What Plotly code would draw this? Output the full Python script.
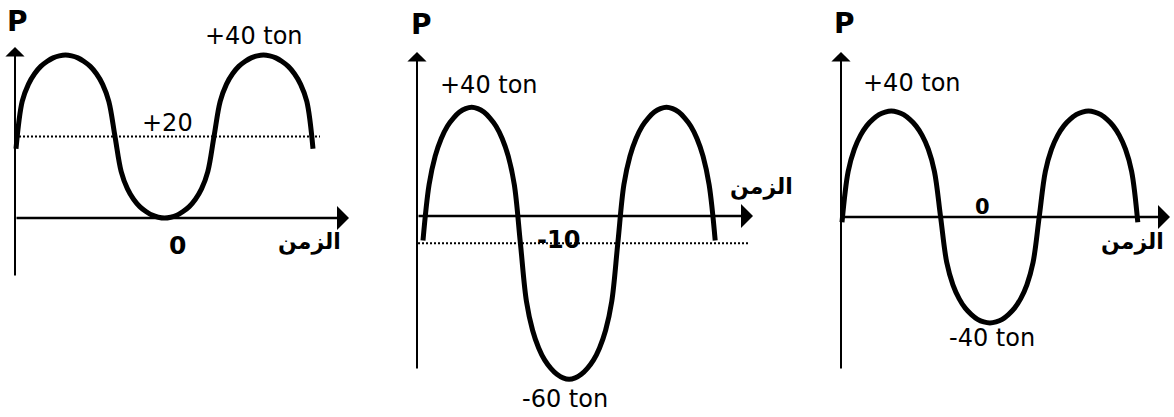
import plotly.graph_objects as go

W, H = 1174, 417

# time in quarter periods: 1 = crest, 2 = mean crossing, 3 = trough ...
t = [0, 0.125, 0.25, 0.375, 0.5, 0.625, 0.75, 0.875,
     1, 1.125, 1.25, 1.375, 1.5, 1.625, 1.75, 1.875,
     2, 2.125, 2.25, 2.375, 2.5, 2.625, 2.75, 2.875,
     3, 3.125, 3.25, 3.375, 3.5, 3.625, 3.75, 3.875,
     4, 4.125, 4.25, 4.375, 4.5, 4.625, 4.75, 4.875,
     5, 5.125, 5.25, 5.375, 5.5, 5.625, 5.75, 5.875, 6]

# load P (ton) for the three cases
load_a = [17, 28.6, 32.8, 35.4, 37.2, 38.4, 39.3, 39.8,
          40, 39.8, 39.3, 38.4, 37.2, 35.4, 32.8, 28.6,
          20, 11.4, 7.2, 4.6, 2.8, 1.6, 0.7, 0.2,
          0, 0.2, 0.7, 1.6, 2.8, 4.6, 7.2, 11.4,
          20, 28.6, 32.8, 35.4, 37.2, 38.4, 39.3, 39.8,
          40, 39.8, 39.3, 38.4, 37.2, 35.4, 32.8, 28.6, 17]
load_b = [-9, 11.5, 22, 28.5, 33, 36, 38.2, 39.5,
          40, 39.5, 38.2, 36, 33, 28.5, 22, 11.5,
          -10, -31.5, -42, -48.5, -53, -56, -58.2, -59.5,
          -60, -59.5, -58.2, -56, -53, -48.5, -42, -31.5,
          -10, 11.5, 22, 28.5, 33, 36, 38.2, 39.5,
          40, 39.5, 38.2, 36, 33, 28.5, 22, 11.5, -9]
load_c = [-2, 17.2, 25.6, 30.8, 34.4, 36.8, 38.6, 39.6,
          40, 39.6, 38.6, 36.8, 34.4, 30.8, 25.6, 17.2,
          0, -17.2, -25.6, -30.8, -34.4, -36.8, -38.6, -39.6,
          -40, -39.6, -38.6, -36.8, -34.4, -30.8, -25.6, -17.2,
          0, 17.2, 25.6, 30.8, 34.4, 36.8, 38.6, 39.6,
          40, 39.6, 38.6, 36.8, 34.4, 30.8, 25.6, 17.2, -2]
loads = [load_a, load_b, load_c]

# dotted reference levels (ton)
ref_levels = [[20, 0], [-10], [0]]

axis_title = "P"
time_title = "الزمن"

# panel geometry: pixel of t=0, px per quarter period, pixel of P=0, px per ton
panels = [
    dict(x0=16, sx=49.5, y0=218, sy=4.075, dom=(0, 392)),
    dict(x0=423, sx=48.7, y0=216, sy=2.72, dom=(396, 796)),
    dict(x0=842, sx=49.3, y0=217, sy=2.65, dom=(800, 1174)),
]

# axis decorations in pixels: y-axis x, y-axis bottom, y-axis tip, x-axis tip
axes_px = [
    dict(ax=15, bottom=277, ytip=43, xtip=353),
    dict(ax=417, bottom=370, ytip=48, xtip=757),
    dict(ax=841, bottom=370, ytip=48, xtip=1174),
]
# dotted line extents (px) per level
dotted_px = [[(15, 320), (18, 340)], [(418, 748)], [(841, 1160)]]


def tx(i, px):
    p = panels[i]
    return (px - p["x0"]) / p["sx"]


def py(i, pix):
    p = panels[i]
    return (p["y0"] - pix) / p["sy"]


fig = go.Figure()
annotations = []
layout_axes = {}

for i, p in enumerate(panels):
    xa = "x" if i == 0 else f"x{i + 1}"
    ya = "y" if i == 0 else f"y{i + 1}"
    xkey = "xaxis" if i == 0 else f"xaxis{i + 1}"
    ykey = "yaxis" if i == 0 else f"yaxis{i + 1}"
    layout_axes[xkey] = dict(
        domain=[p["dom"][0] / W, p["dom"][1] / W],
        range=[tx(i, p["dom"][0]), tx(i, p["dom"][1])],
        visible=False, anchor=ya,
    )
    layout_axes[ykey] = dict(
        domain=[0, 1],
        range=[py(i, H), py(i, 0)],
        visible=False, anchor=xa,
    )

    # dotted reference levels
    for level, (a, b) in zip(ref_levels[i], dotted_px[i]):
        fig.add_trace(go.Scatter(
            x=[tx(i, a), tx(i, b)], y=[level, level], mode="lines",
            line=dict(color="black", width=2, dash="2px,2px"),
            xaxis=xa, yaxis=ya, showlegend=False, hoverinfo="skip",
            cliponaxis=False,
        ))

    # load curve
    fig.add_trace(go.Scatter(
        x=t, y=loads[i], mode="lines",
        line=dict(color="black", width=5, shape="spline", smoothing=1.0),
        xaxis=xa, yaxis=ya, showlegend=False, hoverinfo="skip",
        cliponaxis=False,
    ))

    # axes with arrowheads
    a = axes_px[i]
    head_off = 4
    annotations.append(dict(
        x=tx(i, a["ax"]), y=py(i, a["ytip"] + head_off),
        ax=tx(i, a["ax"]), ay=py(i, a["bottom"]),
        xref=xa, yref=ya, axref=xa, ayref=ya, text="",
        showarrow=True, arrowhead=1, arrowsize=1.6, arrowwidth=2,
        arrowcolor="black",
    ))
    annotations.append(dict(
        x=tx(i, a["xtip"] - head_off), y=0,
        ax=tx(i, a["ax"]), ay=0,
        xref=xa, yref=ya, axref=xa, ayref=ya, text="",
        showarrow=True, arrowhead=1, arrowsize=1.6, arrowwidth=2.5,
        arrowcolor="black",
    ))

# text labels: (text, center x px, center y px, size, bold)
labels = [
    (axis_title, 17, 21, 28, True),
    ("+40 ton", 254, 36, 24, False),
    ("+20", 167, 123, 24, False),
    ("0", 177, 245, 25, True),
    (time_title, 309, 242, 22, True),
    (axis_title, 421, 25, 28, True),
    ("+40 ton", 489, 85, 24, False),
    ("-60 ton", 565, 399, 24, False),
    ("-10", 558, 240, 24, True),
    (time_title, 762, 187, 22, True),
    (axis_title, 844, 24, 28, True),
    ("+40 ton", 912, 83, 24, False),
    ("0", 982, 207, 21, True),
    ("-40 ton", 992, 338, 24, False),
    (time_title, 1132, 242, 22, True),
]
for text, cx, cy, size, bold in labels:
    annotations.append(dict(
        text=f"<b>{text}</b>" if bold else text,
        x=cx / W, y=1 - cy / H, xref="paper", yref="paper",
        xanchor="center", yanchor="middle", showarrow=False,
        font=dict(family="DejaVu Sans", size=size, color="black"),
    ))

fig.update_layout(
    width=W, height=H,
    margin=dict(l=0, r=0, t=0, b=0),
    paper_bgcolor="white", plot_bgcolor="white",
    annotations=annotations,
    **layout_axes,
)

fig.write_html("out.html", config={"displayModeBar": False})
